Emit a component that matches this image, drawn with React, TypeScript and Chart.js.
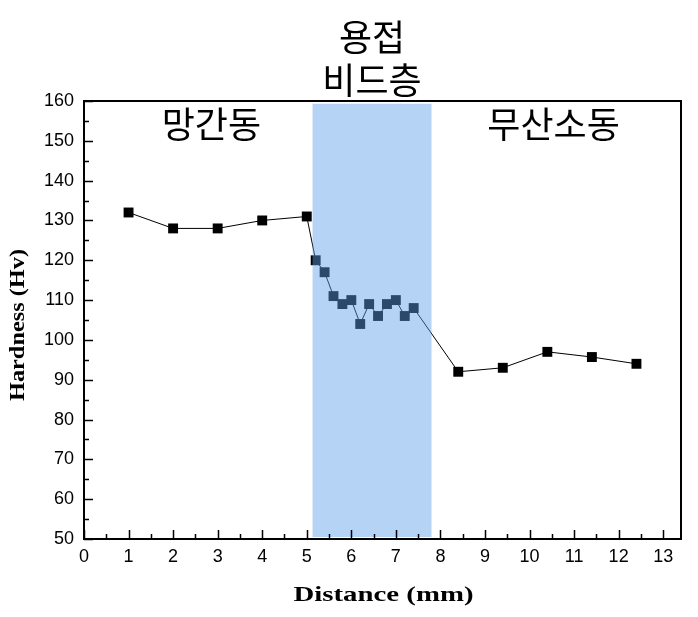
import React, { useEffect, useRef } from "react";
import { Chart, registerables } from "chart.js";

Chart.register(...registerables);

const distance = [1, 2, 3, 4, 5, 5.2, 5.4, 5.6, 5.8, 6.0, 6.2, 6.4, 6.6, 6.8, 7.0, 7.2, 7.4, 8.4, 9.4, 10.4, 11.4, 12.4];
const hardness = [132, 128, 128, 130, 131, 120, 117, 111, 109, 110, 104, 109, 106, 109, 110, 106, 108, 92, 93, 97, 95.7, 94];

const beadRange = [5.13, 7.8];
const beadHardnessRange = [50.5, 159.3];
const regionLabels = ["망간동", "무산소동"];
const regionLabelX = [2.86, 10.54];
const regionLabelY = 154.2;
const beadLabel = ["용접", "비드층"];

const xTitle = "Distance (mm)";
const yTitle = "Hardness (Hv)";

const KFONT = '"Noto Sans CJK KR", "Noto Sans", sans-serif';
const TITLE_FONT = 'bold 22px "Liberation Serif", serif';

function drawStretched(ctx: any, text: string, cx: number, cy: number, font: string, targetWidth: number, rotate: boolean) {
  ctx.save();
  ctx.font = font;
  const w = ctx.measureText(text).width;
  ctx.translate(cx, cy);
  if (rotate) ctx.rotate(-Math.PI / 2);
  ctx.scale(targetWidth / w, 1);
  ctx.fillStyle = "#000";
  ctx.textAlign = "center";
  ctx.textBaseline = "middle";
  ctx.fillText(text, 0, 0);
  ctx.restore();
}

const decorPlugin = {
  id: "decor",
  afterDatasetsDraw(chart: any) {
    const { ctx, chartArea, scales } = chart;
    const x = scales.x;
    const y = scales.y;
    ctx.save();
    const x0 = x.getPixelForValue(beadRange[0]);
    const x1 = x.getPixelForValue(beadRange[1]);
    const y0 = y.getPixelForValue(beadHardnessRange[1]);
    const y1 = y.getPixelForValue(beadHardnessRange[0]);
    ctx.fillStyle = "rgba(93,160,231,0.46)";
    ctx.fillRect(x0, y0, x1 - x0, y1 - y0);

    ctx.strokeStyle = "#000";
    ctx.lineWidth = 2;
    ctx.strokeRect(chartArea.left, chartArea.top, chartArea.right - chartArea.left, chartArea.bottom - chartArea.top);

    ctx.lineWidth = 1.5;
    ctx.beginPath();
    for (let v = 0; v <= 13.01; v += 0.5) {
      const px = Math.round(x.getPixelForValue(v)) + 0.5;
      const len = Math.abs(v - Math.round(v)) < 1e-6 ? 9 : 5;
      ctx.moveTo(px, chartArea.bottom);
      ctx.lineTo(px, chartArea.bottom - len);
    }
    for (let v = 50; v <= 160; v += 5) {
      const py = Math.round(y.getPixelForValue(v)) + 0.5;
      const len = v % 10 === 0 ? 9 : 5;
      ctx.moveTo(chartArea.left, py);
      ctx.lineTo(chartArea.left + len, py);
    }
    ctx.stroke();

    ctx.fillStyle = "#000";
    ctx.font = `36px ${KFONT}`;
    ctx.textAlign = "center";
    ctx.textBaseline = "middle";
    regionLabels.forEach((t, i) => {
      ctx.fillText(t, x.getPixelForValue(regionLabelX[i]), y.getPixelForValue(regionLabelY));
    });
    const cx = (x0 + x1) / 2;
    ctx.fillText(beadLabel[0], cx, chartArea.top - 64);
    ctx.fillText(beadLabel[1], cx, chartArea.top - 21);
    ctx.restore();

    drawStretched(ctx, xTitle, (chartArea.left + chartArea.right) / 2 + 1, chartArea.bottom + 56, TITLE_FONT, 180, false);
    drawStretched(ctx, yTitle, 19, (chartArea.top + chartArea.bottom) / 2 + 5, 'bold 21px "Liberation Serif", serif', 152, true);
  },
};

export default function App() {
  const ref = useRef<HTMLCanvasElement>(null);
  useEffect(() => {
    const chart = new Chart(ref.current!, {
      type: "line",
      data: {
        datasets: [
          {
            data: distance.map((d, i) => ({ x: d, y: hardness[i] })),
            borderColor: "#000",
            borderWidth: 1,
            backgroundColor: "#000",
            pointStyle: "rect",
            pointRadius: 7,
            pointBorderWidth: 0,
            tension: 0,
          },
        ],
      },
      options: {
        animation: false,
        responsive: false,
        layout: { padding: { left: 0, right: 17, top: 101, bottom: 0 } },
        plugins: { legend: { display: false }, tooltip: { enabled: false } },
        scales: {
          x: {
            type: "linear",
            min: 0,
            max: 13.4,
            grid: { display: false, drawTicks: false },
            border: { display: false },
            ticks: {
              stepSize: 1,
              includeBounds: false,
              padding: 7,
              color: "#000",
              font: { family: "Liberation Sans", size: 18 },
            },
            afterFit(scale: any) {
              scale.height = 78;
            },
          },
          y: {
            type: "linear",
            min: 50,
            max: 160,
            grid: { display: false, drawTicks: false },
            border: { display: false },
            ticks: {
              stepSize: 10,
              padding: 10,
              color: "#000",
              font: { family: "Liberation Sans", size: 18 },
            },
            afterFit(scale: any) {
              scale.width = 84;
            },
          },
        },
      },
      plugins: [decorPlugin],
    });
    return () => chart.destroy();
  }, []);
  return (
    <div style={{ position: "fixed", left: 0, top: 0, width: 698, height: 617, background: "#fff" }}>
      <canvas ref={ref} width={698} height={617} />
    </div>
  );
}
